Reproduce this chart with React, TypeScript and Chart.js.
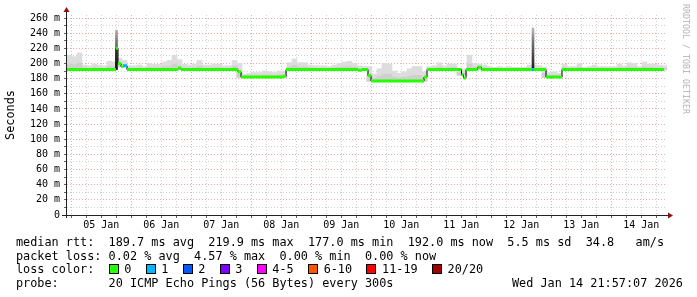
import React, { useEffect, useRef } from "react";
import { Chart, registerables } from "chart.js";
Chart.register(...registerables);

// ---- data (x in hours from left edge of graph, 10 days = 240 h) ----
const spanHours = 240;
const firstMidnight = 1.7; // 05 Jan 00:00
const dayLabels = ["05 Jan", "06 Jan", "07 Jan", "08 Jan", "09 Jan", "10 Jan", "11 Jan", "12 Jan", "13 Jan", "14 Jan"];
const yMax = 264;
const yTickValues = [0, 10, 20, 30, 40, 50, 60, 70, 80, 90, 100, 110, 120, 130, 140, 150, 160, 170, 180, 190, 200, 210, 220, 230, 240, 250, 260];

// median rtt (ms) as steps: value i holds from medianBreaks[i] to medianBreaks[i+1]
const medianBreaks = [0, 19.6, 20.4, 21.6, 22.4, 24.0, 44.4, 45.6, 68.4, 69.6, 86.4, 87.6, 116.4, 118.0, 120.4, 121.6, 142.8, 144.0, 157.8, 158.6, 159.6, 164.2, 165.8, 186.0, 186.8, 191.6, 198.0, 238.8];
const medianValues = [192, 220, 200, 196, 197, 192, 194, 192, 189, 182, 183, 192, 191, 192, 184, 177, 182, 192, 185, 181, 192, 195, 192, 192, 192, 182, 192];
const medianLoss = [0, 0, 0, 0, 1, 0, 0, 0, 0, 0, 0, 0, 0, 0, 0, 0, 0, 0, 0, 0, 0, 0, 0, 1, 0, 0, 0];

// smoke (max ping, ms) in 2-hour buckets
const smokeBucket = 2;
const smokeTop = [
  211, 209, 214, 198, 197, 199, 198, 197, 203, 202,
  207, 204, 197, 197, 198, 196, 200, 199, 199, 202,
  204, 211, 205, 199, 198, 199, 204, 198, 198, 199,
  199, 197, 197, 204, 200, 186, 187, 188, 188, 190,
  189, 188, 190, 189, 201, 206, 201, 201, 198, 197,
  197, 197, 196, 198, 200, 202, 203, 200, 197, 196,
  196, 186, 193, 200, 199, 190, 187, 189, 193, 196,
  196, 189, 196, 197, 201, 197, 199, 199, 194, 192,
  211, 200, 199, 198, 196, 195, 196, 195, 196, 195,
  195, 195, 198, 198, 197, 195, 188, 189, 187, 199,
  196, 196, 200, 195, 196, 198, 196, 196, 196, 196,
  199, 197, 201, 200, 196, 202, 199, 199, 198, 197,
];

// isolated spikes in ping spread
const spikeHours = [19.8, 186.4];
const spikeLow = [192, 192];
const spikeHigh = [244, 247];

const lossColors = ["#26ff00", "#00b8ff", "#0059ff", "#7e00ff", "#ff00ff", "#ff5500", "#ff0000", "#a10000"];
const lossLabels = ["0", "1", "2", "3", "4-5", "6-10", "11-19", "20/20"];
const rttStats = ["189.7 ms avg", "219.9 ms max", "177.0 ms min", "192.0 ms now", "5.5 ms sd", "34.8   am/s"];
const lossStats = ["0.02 % avg", "4.57 % max", "0.00 % min", "0.00 % now"];
const probeText = "20 ICMP Echo Pings (56 Bytes) every 300s";
const dateText = "Wed Jan 14 21:57:07 2026";

const MONO = '"DejaVu Sans Mono", monospace';
const RED_GRID = "rgba(230,60,60,0.45)";
const GRAY_GRID = "rgba(150,150,150,0.45)";

function medianAt(h: number): number {
  for (let i = 0; i < medianValues.length; i++) {
    if (h >= medianBreaks[i] && h < medianBreaks[i + 1]) return medianValues[i];
  }
  return medianValues[medianValues.length - 1];
}

const decor = {
  id: "decor",
  beforeDraw(chart: any) {
    const c = chart.ctx;
    c.save();
    c.fillStyle = "#ffffff";
    c.fillRect(0, 0, chart.width, chart.height);
    c.restore();
  },
  afterDraw(chart: any) {
    const c = chart.ctx;
    const { left, right, top, bottom } = chart.chartArea;
    c.save();
    c.strokeStyle = "#222";
    c.lineWidth = 1;
    c.beginPath();
    c.moveTo(left - 0.5, bottom + 3);
    c.lineTo(left - 0.5, top - 5);
    c.moveTo(left - 5, bottom + 0.5);
    c.lineTo(right + 3, bottom + 0.5);
    c.stroke();
    c.fillStyle = "#8b1010";
    c.beginPath();
    c.moveTo(left - 3.5, top - 3);
    c.lineTo(left + 2.5, top - 3);
    c.lineTo(left - 0.5, top - 8);
    c.closePath();
    c.fill();
    c.beginPath();
    c.moveTo(right + 1, bottom - 2.5);
    c.lineTo(right + 1, bottom + 3.5);
    c.lineTo(right + 6, bottom + 0.5);
    c.closePath();
    c.fill();
    c.restore();
  },
};

export default function App() {
  const ref = useRef<HTMLCanvasElement | null>(null);

  useEffect(() => {
    document.body.style.margin = "0";
    const canvas = ref.current;
    if (!canvas) return;

    const blackPts = medianValues.map((v, i) => ({ x: medianBreaks[i], y: v }));
    blackPts.push({ x: medianBreaks[medianBreaks.length - 1], y: medianValues[medianValues.length - 1] });

    const segPts = (loss: number) => {
      const pts: any[] = [];
      medianValues.forEach((v, i) => {
        if (medianLoss[i] !== loss) return;
        pts.push({ x: medianBreaks[i], y: v });
        pts.push({ x: medianBreaks[i + 1], y: v });
        pts.push({ x: medianBreaks[i + 1], y: null });
      });
      return pts;
    };

    const smokeOuter = smokeTop.map((t, i) => {
      const h = i * smokeBucket + smokeBucket / 2;
      const lo = Math.min(medianAt(h - 0.9), medianAt(h + 0.9)) - 0.5;
      return { x: h, y: [lo, Math.max(t, lo + 0.5)] };
    });
    const smokeInner = smokeOuter.map((p) => ({ x: p.x, y: [p.y[0], p.y[0] + (p.y[1] - p.y[0]) * 0.4] }));
    const spikes = spikeHours.map((h, i) => ({ x: h, y: [spikeLow[i], spikeHigh[i]] }));

    const xTicks: number[] = [];
    for (let k = 0; firstMidnight + 6 * k <= spanHours; k++) xTicks.push(firstMidnight + 6 * k);
    const kOf = (v: number) => Math.round((v - firstMidnight) / 6);

    const chart = new Chart(canvas, {
      type: "bar",
      data: {
        datasets: [
          { type: "line", data: segPts(0), borderColor: lossColors[0], borderWidth: 3, pointRadius: 0, spanGaps: false, order: 1 } as any,
          { type: "line", data: segPts(1), borderColor: lossColors[1], borderWidth: 3, pointRadius: 0, spanGaps: false, order: 1 } as any,
          { type: "line", data: blackPts, borderColor: "#000", borderWidth: 1, pointRadius: 0, stepped: "before", order: 2 } as any,
          {
            type: "bar",
            data: spikes,
            backgroundColor: (ctx: any) => {
              const ch = ctx.chart;
              if (!ch.chartArea) return "#555";
              const ys = ch.scales.y;
              const g = ch.ctx.createLinearGradient(0, ys.getPixelForValue(250), 0, ys.getPixelForValue(192));
              g.addColorStop(0, "#c8c8c8");
              g.addColorStop(0.35, "#777");
              g.addColorStop(1, "#1a1a1a");
              return g;
            },
            barThickness: 2,
            grouped: false,
            borderWidth: 0,
            order: 3,
          } as any,
          { type: "bar", data: smokeInner, backgroundColor: "#cfcfcf", barThickness: 5, grouped: false, borderWidth: 0, order: 4 } as any,
          { type: "bar", data: smokeOuter, backgroundColor: "#dddddd", barThickness: 5, grouped: false, borderWidth: 0, order: 5 } as any,
        ],
      },
      options: {
        animation: false,
        responsive: false,
        devicePixelRatio: 1,
        layout: { padding: { left: 0, right: 30, top: 15, bottom: 0 } },
        plugins: { legend: { display: false }, tooltip: { enabled: false }, title: { display: false } },
        scales: {
          x: {
            type: "linear",
            min: 0,
            max: spanHours,
            offset: false,
            afterBuildTicks: (s: any) => {
              s.ticks = xTicks.map((v) => ({ value: v }));
            },
            afterFit: (s: any) => {
              s.height = 82;
            },
            grid: {
              offset: false,
              color: (ctx: any) => (ctx.tick && kOf(ctx.tick.value) % 4 === 0 ? RED_GRID : GRAY_GRID),
              lineWidth: 1,
              drawTicks: true,
              tickLength: 3,
              tickColor: "rgba(60,60,60,0.8)",
            },
            border: { display: false, dash: [1, 2] },
            ticks: {
              autoSkip: false,
              maxRotation: 0,
              minRotation: 0,
              padding: 1,
              color: "#000",
              font: { family: MONO, size: 10 },
              callback: (v: any) => {
                const k = kOf(Number(v));
                return k % 4 === 2 ? dayLabels[(k - 2) / 4] ?? "" : "";
              },
            },
          },
          y: {
            type: "linear",
            min: 0,
            max: yMax,
            afterBuildTicks: (s: any) => {
              s.ticks = yTickValues.map((v) => ({ value: v }));
            },
            afterFit: (s: any) => {
              s.width = 67;
            },
            grid: {
              color: (ctx: any) => (ctx.tick && ctx.tick.value % 20 === 0 ? RED_GRID : GRAY_GRID),
              lineWidth: 1,
              drawTicks: true,
              tickLength: 3,
              tickColor: "rgba(60,60,60,0.8)",
            },
            border: { display: false, dash: [1, 2] },
            ticks: {
              autoSkip: false,
              padding: 4,
              color: "#000",
              font: { family: MONO, size: 10 },
              callback: (v: any) => {
                const n = Number(v);
                if (n % 20 !== 0) return "";
                return n === 0 ? "0" : `${n} m`;
              },
            },
          },
        },
      } as any,
      plugins: [decor],
    });
    return () => chart.destroy();
  }, []);

  const legendFont = { fontFamily: MONO, fontSize: "11.83px", lineHeight: "14px", whiteSpace: "pre" as const, color: "#000" };

  return (
    <div style={{ position: "relative", width: 697, height: 297, background: "#fff", overflow: "hidden" }}>
      <canvas ref={ref} width={697} height={297} style={{ position: "absolute", left: 0, top: 0 }} />
      <div
        style={{
          ...legendFont,
          position: "absolute",
          left: -40,
          top: 108,
          width: 100,
          height: 14,
          textAlign: "center",
          transform: "rotate(-90deg)",
        }}
      >
        Seconds
      </div>
      <div
        style={{
          position: "absolute",
          left: 626,
          top: 54,
          width: 120,
          height: 10,
          lineHeight: "10px",
          fontFamily: MONO,
          fontSize: "8.3px",
          color: "#b4b4b4",
          textAlign: "center",
          whiteSpace: "pre",
          transform: "rotate(90deg)",
        }}
      >
        RRDTOOL / TOBI OETIKER
      </div>
      <div style={{ ...legendFont, position: "absolute", left: 16, top: 235 }}>
        {"median rtt:  " + rttStats.join("  ")}
      </div>
      <div style={{ ...legendFont, position: "absolute", left: 16, top: 249 }}>
        {"packet loss: " + lossStats.join("  ")}
      </div>
      <div style={{ ...legendFont, position: "absolute", left: 16, top: 262, display: "flex", alignItems: "center" }}>
        <span>{"loss color:  "}</span>
        {lossLabels.map((l, i) => (
          <React.Fragment key={l}>
            <span
              style={{
                display: "inline-block",
                width: 8,
                height: 8,
                border: "1px solid #000",
                background: lossColors[i],
                marginRight: 5.66,
              }}
            />
            <span>{l + "  "}</span>
          </React.Fragment>
        ))}
      </div>
      <div style={{ ...legendFont, position: "absolute", left: 16, top: 276 }}>
        {"probe:       " + probeText}
      </div>
      <div style={{ ...legendFont, position: "absolute", left: 512, top: 276 }}>{dateText}</div>
    </div>
  );
}
